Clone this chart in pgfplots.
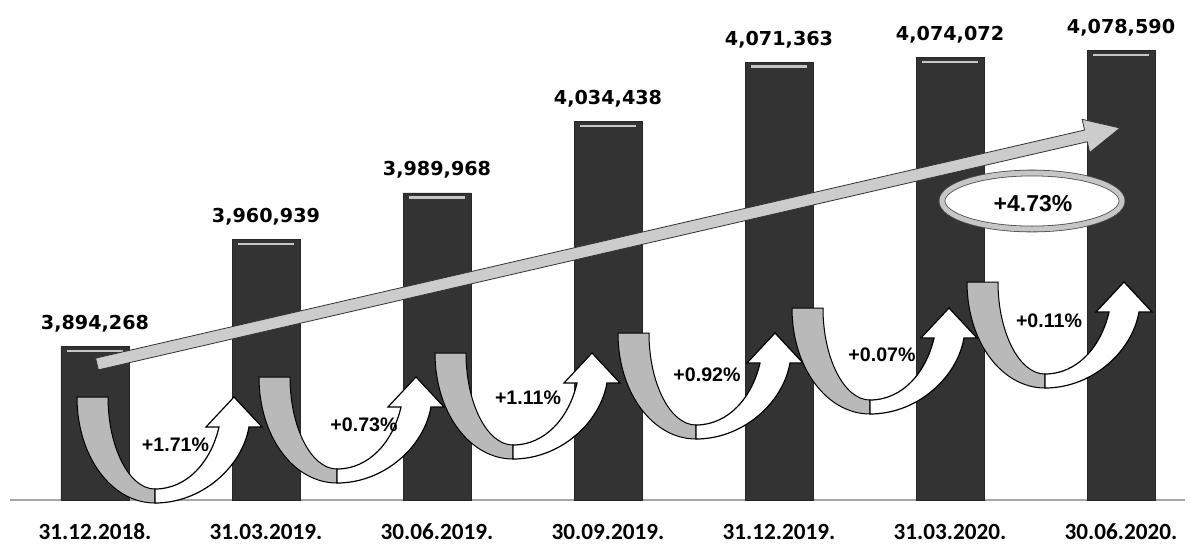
\documentclass[border=0pt]{standalone}
\usepackage{pgfplots}
\pgfplotsset{compat=1.18}
\usepackage{pgfplotstable}
\usepackage{fontspec}
\setmainfont{Liberation Sans}
\newfontfamily\dvfont{DejaVu Sans}
\newfontfamily\carfont{Carlito}
\pgfplotstableread{
x y label
0 3894268 3,894,268
1 3960939 3,960,939
2 3989968 3,989,968
3 4034438 4,034,438
4 4071363 4,071,363
5 4074072 4,074,072
6 4078590 4,078,590
}\datatable
% U-shaped change arrow, local pixel units (y down), origin = top-left of grey band
\newcommand\uarrow[2]{%
\begin{scope}[shift={(#1,#2)}]
\path[fill=gray!55, draw=black, line width=0.5pt]
 (0,0) .. controls (0,60) and (35,106) .. (78,106) -- (78,92)
 .. controls (52,92) and (31,50) .. (31,0) -- cycle;
\path[fill=white, draw=black, line width=0.6pt]
 (78,106) .. controls (125,106) and (165,70) .. (172,30) -- (185,30) -- (157,0)
 -- (129,30) -- (142,30) .. controls (134,65) and (110,92) .. (78,92) -- cycle;
\end{scope}}
\begin{document}
\begin{tikzpicture}
\begin{axis}[
 width=587.5pt, height=250pt, scale only axis,
 xmin=-0.497, xmax=6.374, ymin=3799000, ymax=4110000,
 axis x line*=bottom, axis y line=none,
 x axis line style={-, draw=gray!70, line width=0.8pt},
 xtick={0,...,6},
 xticklabels={31.12.2018.,31.03.2019.,30.06.2019.,30.09.2019.,31.12.2019.,31.03.2020.,30.06.2020.},
 xtick style={draw=none},
 xticklabel style={font=\carfont\bfseries\fontsize{11.6}{12}\selectfont, anchor=base, yshift=-15.5pt},
 ytick=\empty,
 ybar, bar width=34pt,
]
\addplot[fill=black!80, draw=black!85,
 nodes near coords, point meta=explicit symbolic,
 every node near coord/.append style={font=\dvfont\bfseries\fontsize{9.6}{11}\selectfont, anchor=base, yshift=8.5pt, inner sep=0pt, black}]
 table[x=x,y=y,meta=label]{\datatable};
\addplot[only marks, mark=-, mark size=14pt, mark options={draw=gray!45, line width=1.2pt, yshift=-2.2pt}]
 table[x=x,y=y]{\datatable};
\coordinate (TL) at (rel axis cs:0,1);
\end{axis}
\begin{scope}[shift={(TL)}, xshift=-5pt, x=0.5pt, y=-0.5pt]
% big trend arrow
\path[fill=gray!40, draw=gray!40!black, line width=0.4pt]
 (95.65,358.15) -- (1084.55,130.05) -- (1082.1,119.3) -- (1120,128)
 -- (1089.7,152.5) -- (1087.25,141.75) -- (98.35,369.85) -- cycle;
% ellipse with total change
\path[fill=white, draw=black!70, double=gray!45, double distance=2.5pt, line width=0.4pt]
 (1032,201) ellipse [x radius=45pt, y radius=14pt];
\node[font=\bfseries\fontsize{11.5}{13}\selectfont] at (1033,204) {+4.73\%};
% quarterly arrows
\uarrow{77}{397}
\uarrow{259}{377}
\uarrow{435}{353}
\uarrow{618}{333}
\uarrow{792}{308}
\uarrow{967}{282}
\begin{scope}[every node/.style={font=\bfseries\fontsize{9.8}{11}\selectfont, inner sep=0pt}]
\node at (175.5,445) {+1.71\%};
\node at (364,425) {+0.73\%};
\node at (528,398) {+1.11\%};
\node at (707,375) {+0.92\%};
\node at (882,355) {+0.07\%};
\node at (1049,321) {+0.11\%};
\end{scope}
\end{scope}
\pgfresetboundingbox
\path[use as bounding box] ([xshift=-5pt]TL) rectangle ([xshift=590pt,yshift=-271.5pt]TL);
\end{tikzpicture}
\end{document}
